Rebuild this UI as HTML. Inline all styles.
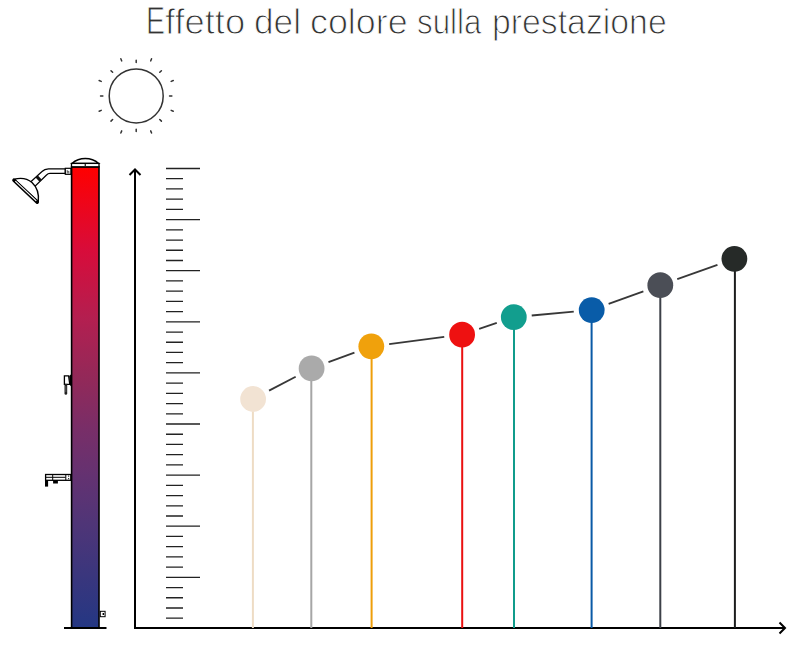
<!DOCTYPE html>
<html><head><meta charset="utf-8"><style>
html,body{margin:0;padding:0;background:#fff;width:800px;height:649px;overflow:hidden}
.w{position:absolute;top:2px;font-family:"Liberation Sans",sans-serif;font-size:35px;color:#333;white-space:nowrap;line-height:40px;transform-origin:0 0;-webkit-text-stroke:1px #fff}
svg{position:absolute;left:0;top:0}
</style></head><body>
<svg width="800" height="649" viewBox="0 0 800 649">
<defs><linearGradient id="g" x1="0" y1="0" x2="0" y2="1">
<stop offset="0" stop-color="#ff0000"/>
<stop offset="0.18" stop-color="#d80c3a"/>
<stop offset="0.33" stop-color="#b31f50"/>
<stop offset="0.46" stop-color="#922959"/>
<stop offset="0.57" stop-color="#782e68"/>
<stop offset="0.67" stop-color="#643271"/>
<stop offset="0.77" stop-color="#503577"/>
<stop offset="1" stop-color="#243783"/>
</linearGradient></defs>
<path d="M166 168.50H200 M166 178.72H183 M166 188.94H183 M166 199.16H183 M166 209.38H183 M166 219.60H200 M166 229.82H183 M166 240.04H183 M166 250.26H183 M166 260.48H183 M166 270.70H200 M166 280.93H183 M166 291.15H183 M166 301.37H183 M166 311.59H183 M166 321.81H200 M166 332.03H183 M166 342.25H183 M166 352.47H183 M166 362.69H183 M166 372.91H200 M166 383.13H183 M166 393.35H183 M166 403.57H183 M166 413.79H183 M166 424.01H200 M166 434.23H183 M166 444.45H183 M166 454.67H183 M166 464.89H183 M166 475.11H200 M166 485.33H183 M166 495.55H183 M166 505.78H183 M166 516.00H183 M166 526.22H200 M166 536.44H183 M166 546.66H183 M166 556.88H183 M166 567.10H183 M166 577.32H200 M166 587.54H183 M166 597.76H183 M166 607.98H183 M166 618.20H183" stroke="#222" stroke-width="1.3" fill="none"/>
<path d="M135 628V169.5M129.5 175 L135 169.5 L140.5 175" stroke="#000" stroke-width="2" fill="none"/>
<path d="M134 628H785M779.5 622.5 L785 628 L779.5 633.5" stroke="#000" stroke-width="2" fill="none"/>
<line x1="252.9" y1="399.0" x2="252.9" y2="628" stroke="#eedcc4" stroke-width="2"/>
<line x1="311.3" y1="368.4" x2="311.3" y2="628" stroke="#a6a6a6" stroke-width="2"/>
<line x1="371.6" y1="346.3" x2="371.6" y2="628" stroke="#ee9e0a" stroke-width="2"/>
<line x1="462.2" y1="334.7" x2="462.2" y2="628" stroke="#ea1010" stroke-width="2"/>
<line x1="514.0" y1="317.1" x2="514.0" y2="628" stroke="#109c8b" stroke-width="2"/>
<line x1="591.6" y1="310.1" x2="591.6" y2="628" stroke="#0a5aa6" stroke-width="2"/>
<line x1="660.3" y1="285.2" x2="660.3" y2="628" stroke="#3d4048" stroke-width="2"/>
<line x1="734.9" y1="258.8" x2="734.9" y2="628" stroke="#1c1d1d" stroke-width="2"/>
<line x1="269.05" y1="390.66" x2="295.65" y2="376.74" stroke="#383838" stroke-width="1.8"/>
<line x1="328.48" y1="362.15" x2="354.42" y2="352.55" stroke="#383838" stroke-width="1.8"/>
<line x1="389.15" y1="344.02" x2="444.25" y2="336.98" stroke="#383838" stroke-width="1.8"/>
<line x1="479.14" y1="328.90" x2="496.76" y2="322.90" stroke="#383838" stroke-width="1.8"/>
<line x1="531.73" y1="315.49" x2="573.77" y2="311.71" stroke="#383838" stroke-width="1.8"/>
<line x1="608.62" y1="303.96" x2="643.38" y2="291.34" stroke="#383838" stroke-width="1.8"/>
<line x1="677.26" y1="279.16" x2="717.44" y2="264.84" stroke="#383838" stroke-width="1.8"/>
<circle cx="253.1" cy="399.0" r="12.9" fill="#f2e3d3"/>
<circle cx="311.6" cy="368.4" r="12.9" fill="#aaaaaa"/>
<circle cx="371.3" cy="346.3" r="12.9" fill="#f0a10c"/>
<circle cx="462.1" cy="334.7" r="12.9" fill="#ee1111"/>
<circle cx="513.8" cy="317.1" r="12.9" fill="#129e8e"/>
<circle cx="591.7" cy="310.1" r="12.9" fill="#095ca8"/>
<circle cx="660.3" cy="285.2" r="12.9" fill="#4b4e56"/>
<circle cx="734.4" cy="258.8" r="12.9" fill="#262a28"/>
<!-- sun -->
<circle cx="136.2" cy="95.9" r="27" fill="none" stroke="#333" stroke-width="1.5"/>
<path d="M136.20 62.55L136.20 60.25 M150.68 60.93L151.56 58.81 M159.78 72.32L161.41 70.69 M171.17 81.42L173.29 80.54 M169.55 95.90L171.85 95.90 M171.17 110.38L173.29 111.26 M159.78 119.48L161.41 121.11 M150.68 130.87L151.56 132.99 M136.20 129.25L136.20 131.55 M121.72 130.87L120.84 132.99 M112.62 119.48L110.99 121.11 M101.23 110.38L99.11 111.26 M102.85 95.90L100.55 95.90 M101.23 81.42L99.11 80.54 M112.62 72.32L110.99 70.69 M121.72 60.93L120.84 58.81" stroke="#333" stroke-width="1.5" stroke-linecap="round" fill="none"/>
<!-- column -->
<rect x="71.6" y="167" width="27.4" height="461" fill="url(#g)" stroke="#000" stroke-width="1.6"/>
<path d="M71.8 163.4 A21 21 0 0 1 98.8 163.4 Z" fill="#fff" stroke="#000" stroke-width="1.3"/>
<rect x="71.5" y="163.4" width="27.5" height="3.4" fill="#fff" stroke="#000" stroke-width="1.3"/>
<rect x="84.6" y="164" width="1.4" height="2.2" fill="#333"/>
<path d="M64 628H106.5" stroke="#000" stroke-width="2"/>
<!-- shower arm -->
<path d="M65.3 168.8 H48.5 Q44.5 168.8 42 171.5 L30 182.5 L34.8 186.5 L46.5 175 Q48 173.4 50 173.4 H65.3 Z" fill="#fff" stroke="#000" stroke-width="1.2"/>
<rect x="65.3" y="168.3" width="5.6" height="6" fill="#fff" stroke="#000" stroke-width="1.2"/>
<path d="M67.2 170 V172.8 H69 V171.4 H67.2" stroke="#333" stroke-width="0.7" fill="none"/>
<path d="M36.6 176.4 L40.6 180.6" stroke="#111" stroke-width="3"/>
<path d="M14.2 179.2 Q25 176.5 32 182.5 Q39.5 189.5 38.3 201.5 Z" fill="#fff" stroke="#000" stroke-width="1.4"/>
<path d="M13.9 180.2 L37.2 202.3" stroke="#000" stroke-width="3.4" stroke-linecap="round"/>
<path d="M15.30 181.05 L36.28 200.94" stroke="#fff" stroke-width="1.1"/>
<!-- handle -->
<path d="M64.4 375.9 H68.6 L69.8 384.3 H64.4 Z" fill="#fff" stroke="#000" stroke-width="1.3"/>
<path d="M69.2 376 L71.2 374.2 V386.6 L69.6 384.8Z" fill="#000"/>
<path d="M65.85 385 V393.4" stroke="#222" stroke-width="2.7" stroke-linecap="round"/>
<path d="M65.85 386 V392" stroke="#666" stroke-width="0.8"/>
<!-- faucet -->
<rect x="45.6" y="474.5" width="25.2" height="5.8" fill="#fff" stroke="#000" stroke-width="1.3"/>
<path d="M45.6 477.3 H65.6 M52.7 474.5 V480.3 M65.8 474.5 V480.3" stroke="#000" stroke-width="1"/>
<rect x="68" y="475.5" width="1.2" height="1.2" fill="#333"/>
<rect x="68" y="478" width="1.2" height="1.2" fill="#333"/>
<rect x="45" y="480" width="3.1" height="6.6" fill="#000"/>
<rect x="53.1" y="480" width="4.8" height="3.5" fill="#000"/>
<!-- bottom box -->
<rect x="100.3" y="611.3" width="4.8" height="5.4" fill="#fff" stroke="#000" stroke-width="1"/>
<rect x="102.6" y="613" width="1.5" height="2" fill="#000"/>
</svg>
<span class="w" style="left:145.6px;top:1px;font-size:38px;transform:scaleX(0.75)">E</span>
<span class="w" style="left:165.26px;transform:scaleX(1.038)">ffetto</span>
<span class="w" style="left:254.24px;transform:scaleX(1.0060)">del</span>
<span class="w" style="left:310.45px;transform:scaleX(1.0242)">colore</span>
<span class="w" style="left:416.61px;transform:scaleX(0.8943)">sulla</span>
<span class="w" style="left:492.20px;transform:scaleX(0.9653)">prestazione</span>
</body></html>
